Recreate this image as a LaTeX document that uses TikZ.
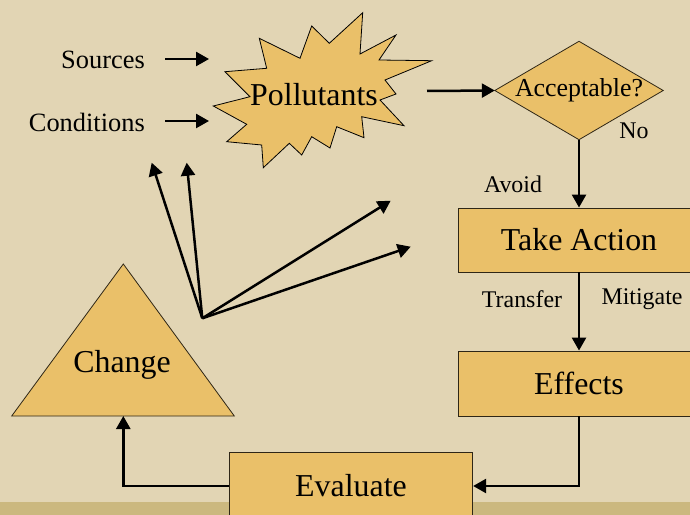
\documentclass[tikz,border=0pt]{standalone}
\usepackage{fontspec}
\setmainfont{Liberation Serif}
\usetikzlibrary{arrows.meta}

\definecolor{paper}{HTML}{E2D5B4}
\definecolor{band}{HTML}{CBB87F}
\definecolor{boxfill}{HTML}{EAC069}
\definecolor{edge}{HTML}{2E2616}

\tikzset{
  stepbox/.style={draw=edge, line width=0.9bp, fill=boxfill, inner sep=0pt,
                  minimum width=242bp, font=\fontsize{32}{35}\selectfont},
  arr/.style={line width=2.5bp, -{Triangle[length=13bp,width=14bp]}},
  small/.style={inner sep=0pt, font=\fontsize{24}{27}\selectfont},
  side/.style={inner sep=0pt, font=\fontsize{26.5}{29}\selectfont},
  big/.style={inner sep=0pt, font=\fontsize{32}{35}\selectfont},
}

\begin{document}
\begin{tikzpicture}[x=1bp, y=-1bp]
  % canvas
  \useasboundingbox (0,0) rectangle (690,515);
  \clip (0,0) rectangle (690,515);
  \fill[paper] (0,0) rectangle (690,515);
  \fill[band] (0,502) rectangle (690,515);

  % inputs
  \node[side, anchor=east] (src) at (145,60) {Sources};
  \node[side, anchor=east] (cond) at (145,122) {Conditions};
  \coordinate (srcA) at (165,59);  \coordinate (srcB) at (209,59);
  \coordinate (condA) at (165,121); \coordinate (condB) at (209,121);
  \draw[arr] (srcA) -- (srcB);
  \draw[arr] (condA) -- (condB);

  % burst
  \draw[fill=boxfill, draw=black, line width=0.8bp]
    (362.7,12.7) -- (360,54) -- (396,35) -- (379,60) -- (431.7,60.7)
    -- (385,80) -- (396,94) -- (380,100) -- (404,125.7) -- (361.7,116.7)
    -- (364,137.7) -- (336.7,126.7) -- (330,148) -- (311.7,136.7)
    -- (301.7,155) -- (289.3,143.3) -- (263.3,167.7) -- (261.7,145)
    -- (226.7,141.7) -- (246.7,124.3) -- (213.3,106) -- (250,96.7)
    -- (225,71.7) -- (266.7,68.3) -- (259.3,38.3) -- (300,58.3)
    -- (311.7,26) -- (329.3,43.3) -- cycle;
  \node[big] (poll) at (314,95) {Pollutants};
  \coordinate (pollOut) at (427,91);

  % decision
  \node[minimum width=168bp, minimum height=98bp, inner sep=0pt] (acc) at (579,90.5) {};
  \draw[fill=boxfill, draw=edge, line width=0.8bp]
    (acc.west) -- (acc.north) -- (acc.east) -- (acc.south) -- cycle;
  \node[inner sep=0pt, font=\fontsize{26}{29}\selectfont] at (acc.center) {Acceptable?};
  \draw[arr] (pollOut) -- (acc.west);
  \node[small] (no) at (634,131) {No};

  % action chain
  \node[stepbox, minimum height=64bp] (take) at (579,240) {Take Action};
  \node[stepbox, minimum height=65bp] (eff) at (579,383.5) {Effects};
  \node[stepbox, minimum width=243.4bp, minimum height=68bp] (eval) at (351,486) {Evaluate};
  \draw[arr] (acc.south) -- (take.north);
  \draw[arr] (take.south) -- (eff.north);
  \node[small] (avoid) at (513,184) {Avoid};
  \node[small] (transfer) at (522,299) {Transfer};
  \node[small] (mitigate) at (642,299) {Mitigate};

  % change
  \coordinate (triTop) at (123.3,264);
  \coordinate (triL) at (11.7,416);
  \coordinate (triR) at (234.3,416);
  \coordinate (triBase) at (123.3,416);
  \draw[fill=boxfill, draw=edge, line width=0.8bp] (triTop) -- (triR) -- (triL) -- cycle;
  \node[big] (chg) at (122,365) {Change};

  % feedback loop
  \draw[arr] (eff.south) |- (eval.east);
  \draw[arr] (eval.west) -| (triBase);

  % fan of influences
  \coordinate (fan) at (202.3,318.3);
  \coordinate (f1) at (151.7,162.7);
  \coordinate (f2) at (186.7,162.7);
  \coordinate (f3) at (390.7,200.7);
  \coordinate (f4) at (410.7,246.7);
  \foreach \t in {f1,f2,f3,f4} \draw[arr] (fan) -- (\t);
\end{tikzpicture}
\end{document}
